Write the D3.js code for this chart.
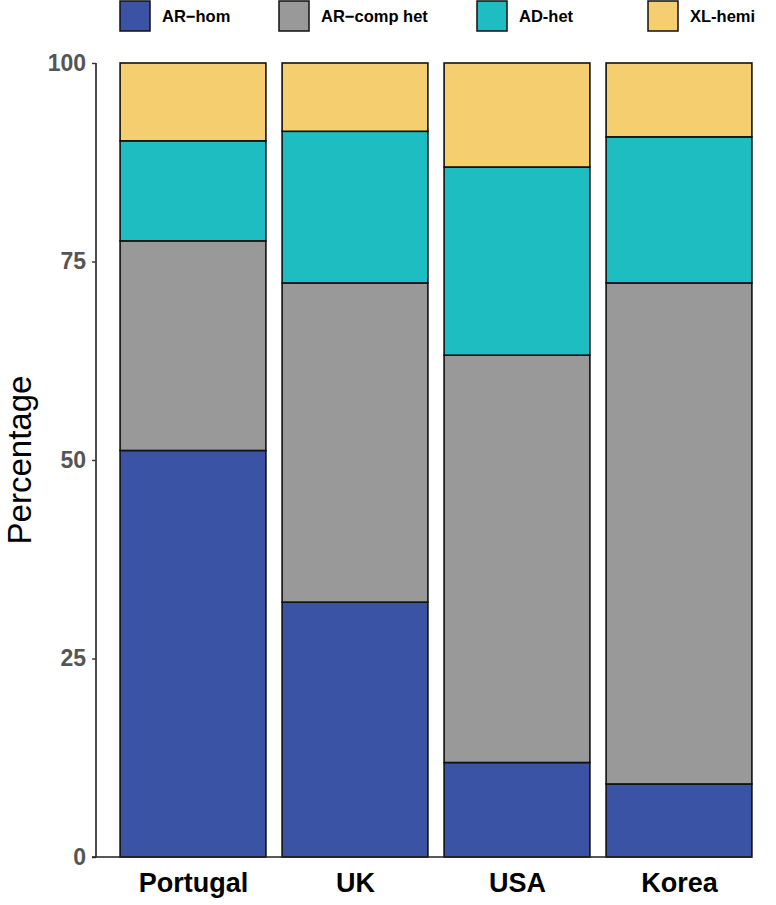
<!DOCTYPE html>
<html><head><meta charset="utf-8">
<script src="https://cdn.jsdelivr.net/npm/d3@7"></script>
<style>body{margin:0;background:#fff}svg{display:block}</style>
</head><body>
<svg id="c" width="776" height="905"></svg>
<script>
const categories = ["Portugal", "UK", "USA", "Korea"];
const seriesNames = ["AR\u2212hom", "AR\u2212comp het", "AD-het", "XL-hemi"];
const arHom = [51.2, 32.1, 11.9, 9.2];
const arCompHet = [26.4, 40.2, 51.3, 63.1];
const adHet = [12.6, 19.1, 23.7, 18.4];
const xlHemi = [9.8, 8.6, 13.1, 9.3];
const colors = ["#3A53A4", "#999999", "#1EBDC1", "#F5CF6F"];
const yTicks = [0, 25, 50, 75, 100];

const svg = d3.select("#c");
const font = "Liberation Sans, Arial, Helvetica, sans-serif";

const rows = categories.map((c, i) => ({cat: c, s0: arHom[i], s1: arCompHet[i], s2: adHet[i], s3: xlHemi[i]}));
const keys = ["s0", "s1", "s2", "s3"];
const stacked = d3.stack().keys(keys)(rows);

const y = d3.scaleLinear().domain([0, 100]).range([857, 63]);
const step = 162;
const xc = d3.scalePoint().domain(categories).range([193, 193 + 3 * step]);
const bw = step * 0.9;

// bars
svg.append("g").selectAll("g").data(stacked).join("g")
  .attr("fill", (d, i) => colors[i])
  .selectAll("rect").data(d => d).join("rect")
  .attr("x", d => xc(d.data.cat) - bw / 2)
  .attr("width", bw)
  .attr("y", d => y(d[1]))
  .attr("height", d => y(d[0]) - y(d[1]))
  .attr("stroke", "#111")
  .attr("stroke-width", 1.6);

// y axis
const yAxis = svg.append("g").attr("transform", "translate(96,0)")
  .call(d3.axisLeft(y).tickValues(yTicks).tickSize(4).tickPadding(6));
yAxis.select(".domain").attr("stroke", "#222").attr("stroke-width", 1.6).attr("d", "M0,63V857");
yAxis.selectAll(".tick line").attr("stroke", "#333").attr("stroke-width", 1.4);
yAxis.selectAll(".tick text").attr("font-family", font).attr("font-size", 23).attr("font-weight", "bold").attr("fill", "#555");

// x axis
const xAxis = svg.append("g").attr("transform", "translate(0,857)")
  .call(d3.axisBottom(xc).tickSize(0).tickPadding(16));
xAxis.select(".domain").attr("stroke", "#222").attr("stroke-width", 1.6).attr("d", "M92,0H752");
xAxis.selectAll(".tick text").attr("font-family", font).attr("font-size", 27).attr("font-weight", "bold").attr("fill", "#000");

// y title
svg.append("text").attr("transform", "translate(31,460) rotate(-90)")
  .attr("text-anchor", "middle").attr("font-family", font).attr("font-size", 33).attr("fill", "#000")
  .text("Percentage");

// legend
const legX = [120, 279, 477, 648];
const leg = svg.append("g");
seriesNames.forEach((n, i) => {
  leg.append("rect").attr("x", legX[i]).attr("y", 1).attr("width", 30).attr("height", 30)
    .attr("fill", colors[i]).attr("stroke", "#111").attr("stroke-width", 1.5);
  leg.append("text").attr("x", legX[i] + 42).attr("y", 22).attr("font-family", font)
    .attr("font-size", 16.5).attr("font-weight", "bold").attr("fill", "#000").text(n);
});
</script>
</body></html>
